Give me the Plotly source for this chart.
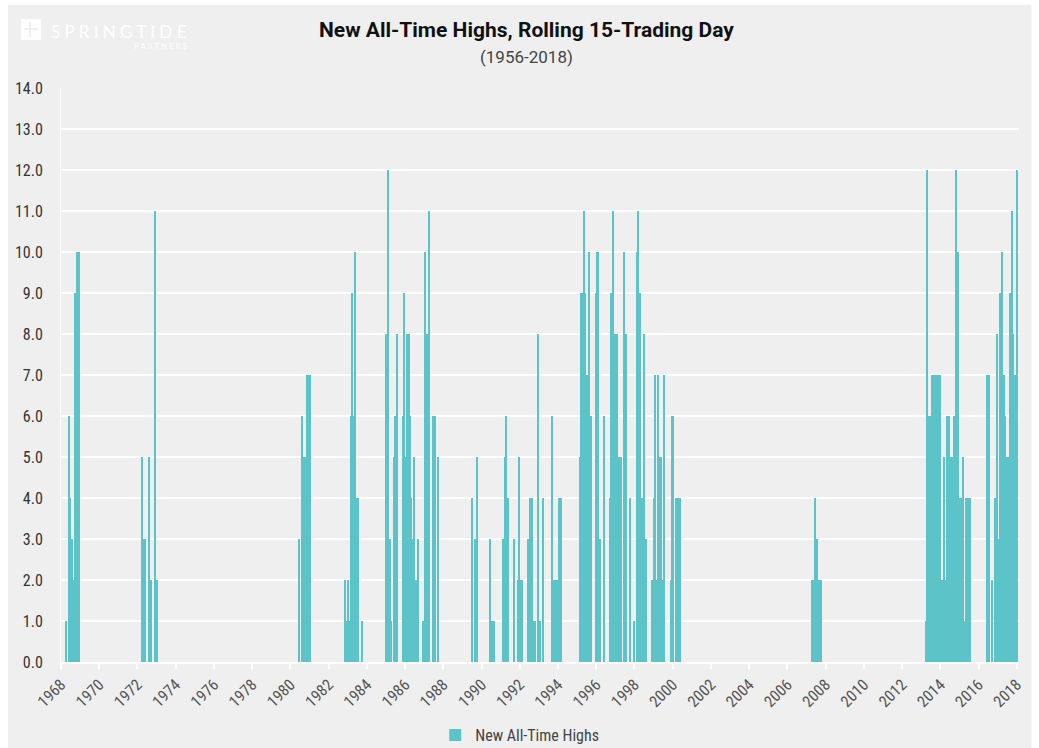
import plotly.graph_objects as go

# Rolling 15-trading-day count of new all-time highs
dates = [
    # 1968
    "1968-04-05", "1968-05-27", "1968-06-28", "1968-08-03", "1968-08-20", "1968-09-06",
    "1968-09-27", "1968-10-08", "1968-10-23", "1968-11-07", "1968-11-24", "1968-12-08",
    # 1972-73
    "1972-03-25", "1972-04-28", "1972-06-03", "1972-08-18", "1972-09-20", "1972-12-05", "1973-01-08",
    # 1980-81
    "1980-06-18", "1980-08-12", "1980-08-26", "1980-09-13", "1980-10-01", "1980-10-19",
    "1980-11-06", "1980-11-21", "1980-12-09", "1980-12-27", "1981-01-12",
    # 1982-83
    "1982-11-17", "1982-12-13", "1983-01-15", "1983-02-06", "1983-03-01", "1983-03-25",
    "1983-04-20", "1983-05-16", "1983-06-14", "1983-07-02", "1983-07-16", "1983-09-24",
    # 1985-87
    "1984-12-28", "1985-02-17", "1985-03-18", "1985-04-09", "1985-06-03", "1985-06-29",
    "1985-07-24", "1985-11-28", "1985-12-16", "1986-01-01", "1986-01-12", "1986-01-27",
    "1986-02-14", "1986-02-28", "1986-03-11", "1986-04-06", "1986-05-01", "1986-05-27",
    "1986-06-21", "1986-07-24", "1986-09-09", "1986-12-13", "1987-01-15", "1987-02-28",
    "1987-03-29", "1987-06-24", "1987-07-27", "1987-09-16",
    # 1989-94
    "1989-07-08", "1989-08-29", "1989-10-01", "1990-06-10", "1990-07-13", "1990-08-08",
    "1990-09-02", "1991-02-21", "1991-03-22", "1991-04-13", "1991-05-05", "1991-05-27",
    "1991-09-13", "1991-12-02", "1991-12-20", "1992-01-12", "1992-02-06", "1992-06-10",
    "1992-07-13", "1992-08-15", "1992-09-02", "1992-09-24", "1992-10-16", "1992-12-06",
    "1992-12-20", "1993-01-15", "1993-03-14", "1993-09-02", "1993-10-01", "1993-11-03",
    "1993-12-06", "1994-01-23", "1994-02-21",
    # 1995-2000
    "1995-02-24", "1995-03-14", "1995-03-29", "1995-05-12", "1995-06-10", "1995-07-01",
    "1995-08-15", "1995-09-16", "1995-12-20", "1996-01-08", "1996-01-23", "1996-02-10",
    "1996-03-07", "1996-06-03", "1996-09-16", "1996-10-04", "1996-10-19", "1996-11-10",
    "1996-12-09", "1997-01-01", "1997-01-26", "1997-02-10", "1997-02-24", "1997-03-21",
    "1997-04-16", "1997-06-18", "1997-07-17", "1997-10-05", "1997-12-28", "1998-02-10",
    "1998-03-11", "1998-03-29", "1998-04-13", "1998-05-27", "1998-06-28", "1998-08-18",
    "1998-12-02", "1999-01-01", "1999-01-27", "1999-02-21", "1999-03-18", "1999-04-16",
    "1999-05-04", "1999-05-19", "1999-06-21", "1999-07-20", "1999-11-25", "1999-12-20",
    "2000-01-08", "2000-03-14", "2000-04-13", "2000-05-16",
    # 2007
    "2007-04-08", "2007-05-06", "2007-06-06", "2007-07-02", "2007-07-28", "2007-08-24", "2007-10-15",
    # 2013-15
    "2013-03-25", "2013-04-20", "2013-05-16", "2013-06-10", "2013-07-13", "2013-07-31",
    "2013-08-29", "2013-09-20", "2013-10-16", "2013-11-07", "2013-11-28", "2014-01-01",
    "2014-01-26", "2014-02-21", "2014-03-21", "2014-04-16", "2014-05-16", "2014-06-14",
    "2014-07-09", "2014-08-11", "2014-09-13", "2014-10-16", "2014-11-03", "2014-11-21",
    "2014-12-06", "2015-01-05", "2015-02-06", "2015-03-11", "2015-04-09", "2015-05-12",
    "2015-06-14", "2015-07-16",
    # 2016-18
    "2016-06-18", "2016-07-16", "2016-09-20", "2016-11-03", "2016-12-17", "2017-01-12",
    "2017-02-06", "2017-03-11", "2017-03-29", "2017-04-23", "2017-05-30", "2017-06-25",
    "2017-08-04", "2017-09-02", "2017-09-27", "2017-10-19", "2017-11-21", "2017-12-17",
    "2018-01-12",
]

new_highs = [
    # 1968
    1, 6, 4, 3, 2, 2,
    9, 9, 9, 10, 10, 10,
    # 1972-73
    5, 3, 3, 5, 2, 11, 2,
    # 1980-81
    3, 6, 5, 5, 5, 5,
    5, 7, 7, 7, 7,
    # 1982-83
    2, 1, 2, 1, 6, 9,
    6, 10, 4, 4, 4, 1,
    # 1985-87
    8, 12, 3, 1, 5, 6,
    8, 6, 9, 5, 5, 5,
    8, 5, 8, 6, 4, 3,
    5, 2, 3, 1, 10, 8,
    11, 6, 6, 5,
    # 1989-94
    4, 3, 5, 3, 1, 1,
    1, 3, 5, 6, 4, 4,
    3, 2, 5, 2, 2, 3,
    4, 4, 1, 1, 1, 5,
    8, 1, 4, 6, 2, 2,
    2, 4, 4,
    # 1995-2000
    5, 9, 9, 11, 9, 7,
    10, 6, 9, 10, 9, 10,
    3, 6, 4, 5, 9, 11,
    8, 8, 8, 5, 5, 5,
    5, 10, 8, 4, 1, 10,
    11, 9, 9, 4, 8, 3,
    2, 4, 7, 2, 7, 2,
    5, 5, 2, 7, 2, 6,
    6, 4, 4, 4,
    # 2007
    2, 2, 4, 3, 3, 2, 2,
    # 2013-15
    1, 12, 6, 6, 6, 7,
    7, 7, 7, 7, 7, 7,
    2, 2, 5, 2, 6, 6,
    5, 5, 6, 1, 12, 10,
    10, 4, 4, 5, 1, 4,
    4, 4,
    # 2016-18
    7, 7, 2, 4, 8, 3,
    9, 6, 10, 7, 6, 5,
    5, 9, 11, 8, 7, 7,
    12,
]

series_name = "New All-Time Highs"
title_text = "<b>New All-Time Highs, Rolling 15-Trading Day</b>"
subtitle_text = "(1956-2018)"

BAR = "#5cc4c8"
BG = "#efefef"
FONT = "Liberation Sans Narrow, Roboto Condensed, Arial Narrow, Roboto, sans-serif"
HEAD_FONT = "Roboto, sans-serif"
DAY_MS = 86400000

# pixel geometry of the plotting area (used to place decorations in paper units)
L, R, T, B = 61, 1019.5, 88, 662
W, H = R - L, B - T


def px(x):
    return (x - L) / W


def py(y):
    return (B - y) / H


fig = go.Figure()
fig.add_trace(go.Bar(
    x=dates,
    y=new_highs,
    name=series_name,
    marker=dict(color=BAR, line=dict(width=0)),
    width=21 * DAY_MS,
    showlegend=True,
))

shapes = [
    # grey card behind the whole chart
    dict(type="rect", xref="paper", yref="paper", layer="below",
         x0=px(8), x1=px(1032), y0=py(748), y1=py(5),
         fillcolor=BG, line=dict(width=0)),
    # logo mark
    dict(type="rect", xref="paper", yref="paper", layer="below",
         x0=px(21), x1=px(41), y0=py(40), y1=py(19),
         fillcolor="rgba(255,255,255,0.9)", line=dict(width=0)),
    dict(type="line", xref="paper", yref="paper", layer="below",
         x0=px(24), x1=px(38), y0=py(29), y1=py(29),
         line=dict(color=BG, width=2)),
    dict(type="line", xref="paper", yref="paper", layer="below",
         x0=px(30), x1=px(30), y0=py(22), y1=py(37),
         line=dict(color=BG, width=2)),
]

annotations = [
    dict(text=title_text, x=px(527), y=py(30), xref="paper", yref="paper",
         showarrow=False, xanchor="center", yanchor="middle",
         font=dict(family=HEAD_FONT, size=21, color="#111111")),
    dict(text=subtitle_text, x=px(527), y=py(57), xref="paper", yref="paper",
         showarrow=False, xanchor="center", yanchor="middle",
         font=dict(family=HEAD_FONT, size=17, color="#444444")),
    dict(text="S P R I N G T I D E", x=px(49), y=py(31), xref="paper", yref="paper",
         showarrow=False, xanchor="left", yanchor="middle",
         font=dict(family="Lato, Open Sans, sans-serif", size=17, color="rgba(255,255,255,0.95)")),
    dict(text="P A R T N E R S", x=px(189), y=py(46), xref="paper", yref="paper",
         showarrow=False, xanchor="right", yanchor="middle",
         font=dict(family="Lato, Open Sans, sans-serif", size=8, color="rgba(255,255,255,0.95)")),
]

fig.update_layout(
    width=1039,
    height=748,
    margin=dict(l=L, r=1039 - R, t=T, b=748 - B, pad=0, autoexpand=False),
    paper_bgcolor="#ffffff",
    plot_bgcolor="rgba(0,0,0,0)",
    font=dict(family=FONT, color="#444444"),
    bargap=0,
    shapes=shapes,
    annotations=annotations,
    showlegend=True,
    legend=dict(
        orientation="h",
        x=px(520), xanchor="center",
        y=py(735), yanchor="middle",
        bgcolor="rgba(0,0,0,0)",
        font=dict(family=FONT, size=16, color="#444444"),
        itemwidth=30,
    ),
    xaxis=dict(
        type="date",
        range=["1968-01-01", "2018-02-12"],
        tick0="1968-01-01",
        dtick="M24",
        tickformat="%Y",
        tickangle=-45,
        showgrid=False,
        showline=True,
        linecolor="#ffffff",
        linewidth=2,
        ticks="outside",
        ticklen=5,
        tickcolor="#ffffff",
        tickwidth=1.5,
        tickfont=dict(family=FONT, size=16, color="#555555"),
        zeroline=False,
    ),
    yaxis=dict(
        range=[0, 14],
        dtick=1,
        tick0=0,
        tickformat=".1f",
        showgrid=True,
        gridcolor="#ffffff",
        gridwidth=1.5,
        showline=True,
        linecolor="#ffffff",
        linewidth=1,
        zeroline=False,
        ticks="",
        ticklabelstandoff=14,
        tickfont=dict(family=FONT, size=16, color="#333333"),
    ),
)

fig.write_html("out.html")
